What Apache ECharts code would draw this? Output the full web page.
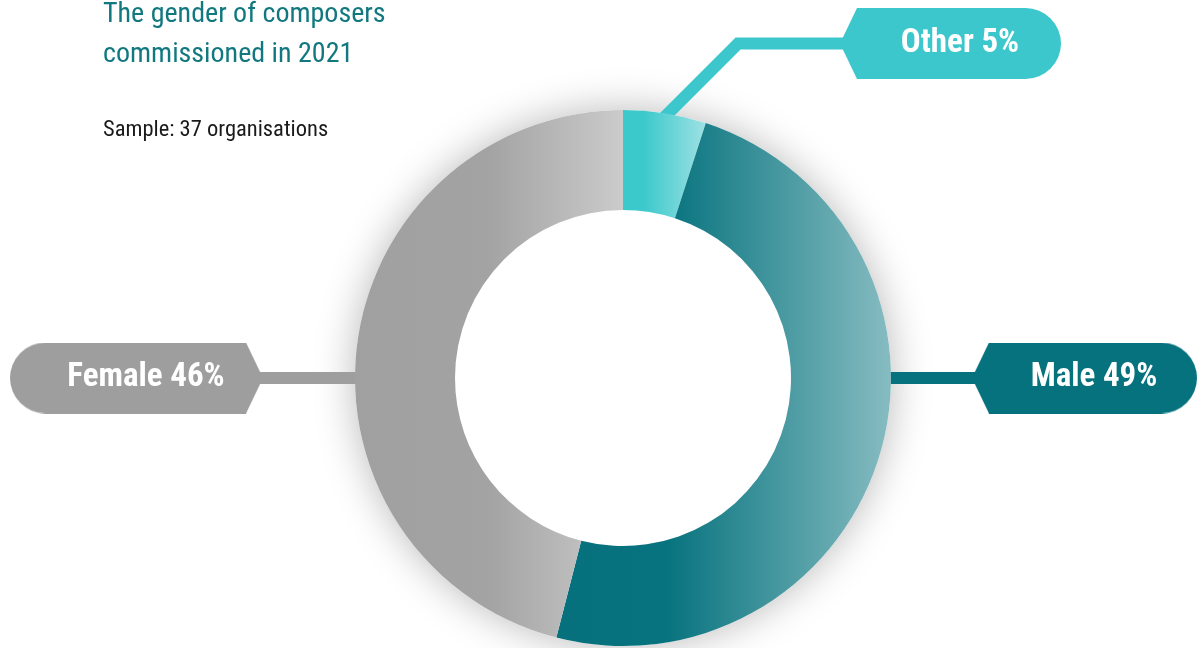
<!DOCTYPE html>
<html><head><meta charset="utf-8">
<script src="https://cdn.jsdelivr.net/npm/echarts@6/dist/echarts.min.js"></script>
<style>html,body{margin:0;padding:0;background:#fff}#c{width:1204px;height:648px}</style>
</head><body><div id="c"></div>
<script>
const categories = ['Other', 'Male', 'Female'];
const values = [5, 49, 46];
const titleLines = ['The gender of composers', 'commissioned in 2021'];
const subtitle = 'Sample: 37 organisations';

const CX = 623, CY = 378, R_OUT = 268, R_IN = 168;
const COND = "'Roboto Condensed','Liberation Sans Narrow','DejaVu Sans Condensed',sans-serif";
const baseColors = ['#3cc7cc', '#06727d', '#9e9e9e'];
const gradStops = [
  [[0, '#3cc9cc'], [0.25, '#3cc9cc'], [1, '#9ee1e3']],
  [[0, '#06717c'], [0.33, '#07737e'], [1, '#86bcc1']],
  [[0, '#a0a0a0'], [0.5, '#a3a3a3'], [1, '#cbcbcb']]
];
// label box geometry: [left edge, width, height, chevronOnLeft]
const boxes = [[840, 221, 71, true], [972, 225, 71, true], [10, 253, 71, false]];
const PADL = 19;

function pillImage(w, h, color, chevronLeft) {
  const c = document.createElement('canvas'); c.width = w; c.height = h;
  const g = c.getContext('2d'); g.fillStyle = color; const r = h / 2, d = 17;
  g.beginPath();
  if (chevronLeft) {
    g.moveTo(d, 0); g.lineTo(w - r, 0); g.arc(w - r, r, r, -Math.PI / 2, Math.PI / 2);
    g.lineTo(d, h); g.lineTo(0, r); g.closePath();
  } else {
    g.moveTo(r, 0); g.lineTo(w - d, 0); g.lineTo(w, r); g.lineTo(w - d, h); g.lineTo(r, h);
    g.arc(r, r, r, Math.PI / 2, Math.PI * 3 / 2); g.closePath();
  }
  g.fill(); return c;
}

const data = categories.map((name, i) => {
  const [x0, w, h, left] = boxes[i];
  return {
    name: name, value: values[i],
    itemStyle: { color: new echarts.graphic.LinearGradient(0, 0, 1, 0, gradStops[i].map(s => ({offset: s[0], color: s[1]}))) },
    label: {
      width: w - PADL, height: h, lineHeight: h,
      padding: [0, 0, 0, PADL],
      backgroundColor: { image: pillImage(w, h, baseColors[i], left) }
    },
    labelLine: { lineStyle: { color: baseColors[i] } }
  };
});

const chart = echarts.init(document.getElementById('c'), null, {renderer: 'canvas'});
chart.setOption({
  animation: false,
  title: [
    { text: titleLines.join('\n'), left: 103, top: -5, padding: 0,
      textStyle: { fontFamily: COND, fontSize: 28, fontWeight: 'normal', color: '#11787f', lineHeight: 40 } },
    { text: subtitle, left: 103, top: 119, padding: 0,
      textStyle: { fontFamily: COND, fontSize: 22.5, fontWeight: 'normal', color: '#1a1a1a' } }
  ],
  series: [
    { type: 'pie', silent: true, z: 1, center: [CX, CY], radius: [0, R_OUT],
      label: { show: false }, labelLine: { show: false },
      itemStyle: { color: '#ffffff', shadowBlur: 40, shadowColor: 'rgba(0,0,0,0.28)' },
      data: [{ value: 1 }] },
    { type: 'pie', z: 2, center: [CX, CY], radius: [R_IN, R_OUT], startAngle: 90, clockwise: true,
      avoidLabelOverlap: false, emphasis: { disabled: true, scale: false },
      label: { show: true, position: 'outside', formatter: '{b} {c}%', color: '#ffffff',
        fontFamily: COND, fontWeight: 'bold', fontSize: 33, align: 'center' },
      labelLine: { show: true, smooth: false, length: 20, length2: 20, lineStyle: { width: 12, cap: 'butt', join: 'miter' } },
      labelLayout: function (p) {
        const i = p.dataIndex;
        const [x0, w] = boxes[i];
        const xc = x0 + w / 2;
        if (i === 0) {
          const a = (90 - 9) * Math.PI / 180;
          const sx = CX + (R_OUT - 4) * Math.cos(a), sy = CY - (R_OUT - 4) * Math.sin(a);
          const ly = 43.5;
          return { x: xc, y: ly, align: 'center', verticalAlign: 'middle',
            labelLinePoints: [[sx, sy], [sx + (sy - ly), ly], [x0 + 5, ly]] };
        } else if (i === 1) {
          return { x: xc, y: CY, align: 'center', verticalAlign: 'middle',
            labelLinePoints: [[CX + R_OUT - 3, CY], [930, CY], [x0 + 5, CY]] };
        } else {
          return { x: xc, y: CY, align: 'center', verticalAlign: 'middle',
            labelLinePoints: [[CX - R_OUT + 3, CY], [300, CY], [x0 + w - 5, CY]] };
        }
      },
      data: data }
  ]
});
</script></body></html>
